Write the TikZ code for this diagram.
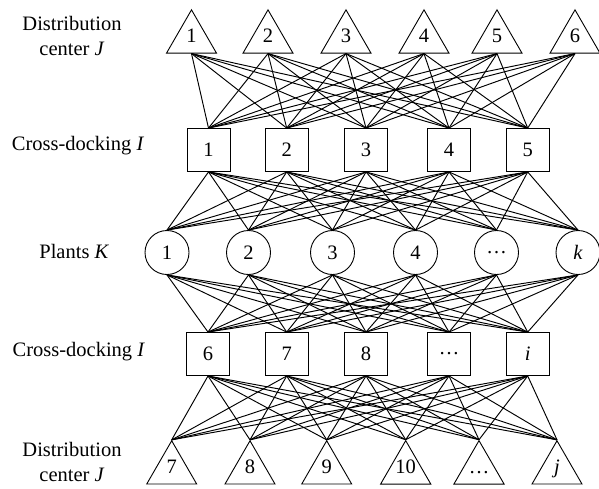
\documentclass[tikz,border=0pt]{standalone}
\usepackage{fontspec}
\setmainfont{Liberation Serif}
\usetikzlibrary{shapes.geometric,calc}
\begin{document}
\begin{tikzpicture}[x=1pt,y=-1pt,
  every node/.style={font=\fontsize{20.5}{25}\selectfont},
  tri/.style={draw, regular polygon, regular polygon sides=3, minimum size=53.4pt, inner sep=0pt, line width=0.9pt, text height=14pt, text depth=6.4pt},
  sq/.style={draw, minimum size=43pt, inner sep=0pt, line width=0.9pt},
  circ/.style={draw, circle, minimum size=44pt, inner sep=0pt, line width=0.9pt},
  link/.style={line width=0.95pt},
  lab/.style={align=center, inner sep=0pt}]
\useasboundingbox (0,0) rectangle (599,488);

% labels
\node[lab] (l1) at (72,36) {Distribution\\center \textit{J}};
\node[lab, anchor=base] (l2) at (78,150.7) {Cross-docking \textit{I}};
\node[lab, anchor=base] (l3) at (74.3,258.3) {Plants \textit{K}};
\node[lab, anchor=base] (l4) at (78.8,356.7) {Cross-docking \textit{I}};
\node[lab] (l5) at (72,462) {Distribution\\center \textit{J}};

% top distribution centers
\foreach \x/\n/\t in {191.5/1/1, 268/2/2, 346/3/3, 424/4/4, 497/5/5, 575/6/6}
  \node[tri] (t\n) at (\x,38.7) {\t};
% upper cross-docking
\foreach \x/\n/\t in {208.5/1/1, 286.7/2/2, 366/3/3, 449/4/4, 527.7/5/5}
  \node[sq] (a\n) at (\x,150) {\t};
% plants
\foreach \x/\n/\t in {167/1/1, 248.5/2/2, 332.5/3/3, 415.5/4/4, 496.5/5/\dots, 578/6/\textit{k}}
  \node[circ] (p\n) at (\x,252.5) {\t};
% lower cross-docking
\foreach \x/\n/\t in {208/1/6, 286.7/2/7, 366/3/8, 449/4/\dots, 527.7/5/\textit{i}}
  \node[sq] (b\n) at (\x,354) {\t};
% bottom distribution centers
\foreach \x/\n/\t in {171.7/1/7, 250/2/8, 326.7/3/9, 405.7/4/10, 479/5/\dots, 557/6/\textit{j}}
  \node[tri] (d\n) at (\x,469.6) {\t};

% base midpoints of top triangles
\foreach \i in {1,...,6}
  \coordinate (tb\i) at ($(t\i.corner 2)!0.5!(t\i.corner 3)$);

% connectors
\foreach \i in {1,...,6}
  \foreach \j in {1,...,5}
    \draw[link] (tb\i) -- (a\j.north);
\foreach \i in {1,...,5}
  \foreach \j in {1,...,6}
    \draw[link] (a\i.south) -- (p\j.north);
\foreach \i in {1,...,6}
  \foreach \j in {1,...,5}
    \draw[link] (p\i.south) -- (b\j.north);
\foreach \i in {1,...,5}
  \foreach \j in {1,...,6}
    \draw[link] (b\i.south) -- (d\j.corner 1);
\end{tikzpicture}
\end{document}
